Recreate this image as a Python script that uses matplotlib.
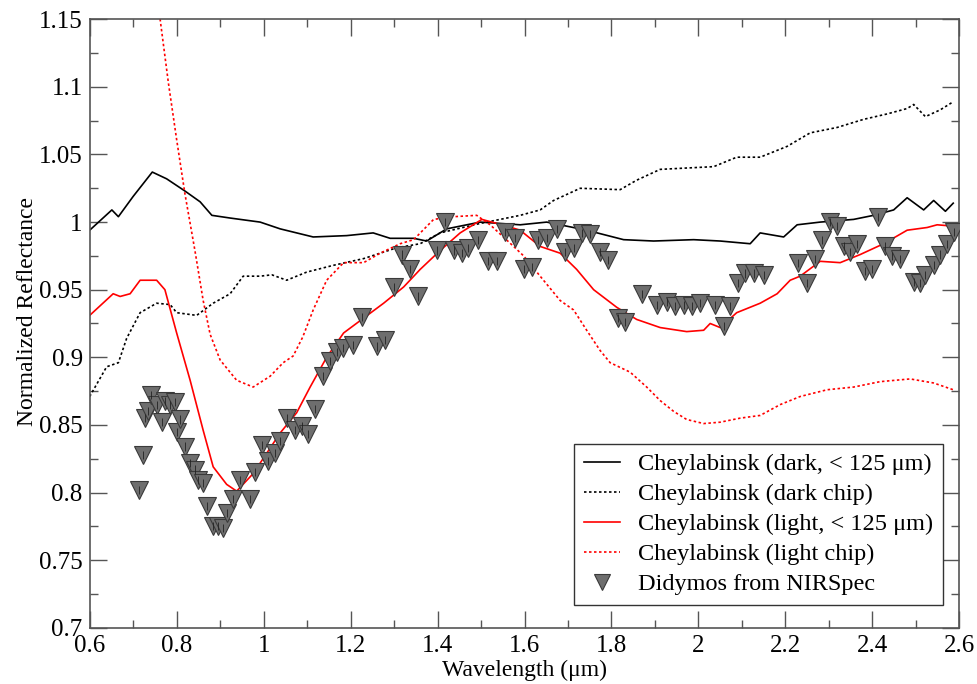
import numpy as np
import matplotlib
matplotlib.use("Agg")
import matplotlib.pyplot as plt

plt.rcParams['font.family'] = ['Liberation Serif', 'DejaVu Serif']

# Cheylabinsk dark, < 125 um (solid black)
dark_fine_x = [0.600, 0.651, 0.666, 0.700, 0.744, 0.777, 0.819, 0.854, 0.881, 0.923,
               0.992, 1.038, 1.114, 1.191, 1.252, 1.291, 1.345, 1.375, 1.421, 1.498,
               1.590, 1.651, 1.743, 1.828, 1.897, 1.989, 2.050, 2.119, 2.142, 2.196,
               2.227, 2.280, 2.357, 2.403, 2.449, 2.480, 2.518, 2.541, 2.568, 2.586]
dark_fine_y = [0.994, 1.009, 1.004, 1.019, 1.037, 1.032, 1.023, 1.015, 1.005, 1.003,
               1.000, 0.995, 0.989, 0.990, 0.992, 0.988, 0.988, 0.986, 0.995, 1.000,
               0.998, 1.000, 0.994, 0.987, 0.986, 0.987, 0.986, 0.984, 0.992, 0.989,
               0.998, 1.000, 1.002, 1.005, 1.009, 1.018, 1.009, 1.016, 1.008, 1.014]

# Cheylabinsk dark chip (dotted black)
dark_chip_x = [0.600, 0.639, 0.666, 0.685, 0.716, 0.754, 0.785, 0.800, 0.846, 0.884,
               0.923, 0.953, 0.992, 1.019, 1.053, 1.099, 1.160, 1.230, 1.306, 1.360,
               1.406, 1.498, 1.590, 1.636, 1.667, 1.728, 1.820, 1.858, 1.912, 1.973,
               2.035, 2.088, 2.142, 2.204, 2.257, 2.319, 2.380, 2.434, 2.480, 2.495,
               2.522, 2.556, 2.586]
dark_chip_y = [0.871, 0.893, 0.896, 0.914, 0.933, 0.940, 0.939, 0.933, 0.931, 0.940,
               0.947, 0.960, 0.960, 0.961, 0.957, 0.963, 0.968, 0.973, 0.981, 0.984,
               0.992, 0.999, 1.005, 1.009, 1.016, 1.025, 1.024, 1.031, 1.039, 1.040,
               1.041, 1.048, 1.048, 1.056, 1.066, 1.070, 1.076, 1.080, 1.084, 1.087,
               1.078, 1.083, 1.089]

# Cheylabinsk light, < 125 um (solid red)
light_fine_x = [0.600, 0.654, 0.670, 0.693, 0.716, 0.754, 0.773, 0.800, 0.831, 0.861,
                0.884, 0.915, 0.938, 0.976, 1.007, 1.038, 1.076, 1.107, 1.145, 1.184,
                1.230, 1.276, 1.322, 1.360, 1.406, 1.452, 1.502, 1.559, 1.590, 1.636,
                1.682, 1.720, 1.759, 1.812, 1.858, 1.912, 1.973, 2.012, 2.027, 2.050,
                2.088, 2.142, 2.181, 2.211, 2.234, 2.280, 2.326, 2.372, 2.426, 2.480,
                2.526, 2.549, 2.586]
light_fine_y = [0.931, 0.947, 0.945, 0.947, 0.957, 0.957, 0.950, 0.918, 0.883, 0.846,
                0.819, 0.806, 0.801, 0.814, 0.829, 0.844, 0.859, 0.878, 0.900, 0.918,
                0.929, 0.940, 0.952, 0.965, 0.979, 0.992, 1.002, 0.997, 0.994, 0.982,
                0.977, 0.965, 0.950, 0.937, 0.928, 0.922, 0.919, 0.920, 0.925, 0.922,
                0.933, 0.940, 0.947, 0.957, 0.960, 0.971, 0.970, 0.976, 0.984, 0.994,
                0.996, 0.998, 0.997]

# Cheylabinsk light chip (dotted red)
light_chip_x = [0.755, 0.762, 0.781, 0.800, 0.819, 0.842, 0.861, 0.877, 0.900, 0.938,
                0.976, 1.015, 1.045, 1.068, 1.090, 1.114, 1.145, 1.184, 1.230, 1.268,
                1.314, 1.345, 1.391, 1.437, 1.490, 1.521, 1.575, 1.598, 1.636, 1.682,
                1.713, 1.743, 1.774, 1.797, 1.843, 1.881, 1.912, 1.943, 1.973, 2.012,
                2.050, 2.096, 2.142, 2.188, 2.234, 2.296, 2.357, 2.418, 2.487, 2.541,
                2.586]
light_chip_y = [1.200, 1.150, 1.103, 1.061, 1.021, 0.979, 0.942, 0.917, 0.898, 0.883,
                0.878, 0.886, 0.896, 0.901, 0.915, 0.935, 0.957, 0.970, 0.970, 0.977,
                0.984, 0.987, 1.002, 1.004, 1.005, 0.998, 0.982, 0.975, 0.960, 0.942,
                0.935, 0.920, 0.905, 0.896, 0.889, 0.878, 0.868, 0.860, 0.854, 0.851,
                0.852, 0.855, 0.857, 0.865, 0.871, 0.876, 0.878, 0.882, 0.884, 0.881,
                0.876]

# Didymos from NIRSpec (triangles)
didy_x = [0.714, 0.722, 0.727, 0.735, 0.742, 0.754, 0.766, 0.773, 0.785, 0.796,
          0.800, 0.808, 0.819, 0.831, 0.842, 0.850, 0.861, 0.869, 0.884, 0.896,
          0.907, 0.915, 0.930, 0.946, 0.969, 0.980, 0.996, 1.011, 1.026, 1.038,
          1.053, 1.072, 1.088, 1.103, 1.118, 1.137, 1.153, 1.168, 1.183, 1.206,
          1.226, 1.260, 1.279, 1.299, 1.318, 1.337, 1.356, 1.398, 1.417, 1.437,
          1.456, 1.471, 1.494, 1.517, 1.536, 1.555, 1.578, 1.598, 1.617, 1.632,
          1.651, 1.674, 1.694, 1.713, 1.732, 1.751, 1.774, 1.793, 1.816, 1.832,
          1.870, 1.904, 1.927, 1.947, 1.966, 1.985, 2.004, 2.039, 2.058, 2.073,
          2.092, 2.108, 2.127, 2.150, 2.230, 2.250, 2.269, 2.284, 2.303, 2.319,
          2.334, 2.349, 2.365, 2.384, 2.399, 2.414, 2.430, 2.445, 2.464, 2.495,
          2.510, 2.522, 2.541, 2.556, 2.572, 2.587]
didy_y = [0.802, 0.828, 0.855, 0.860, 0.872, 0.865, 0.852, 0.868, 0.865, 0.867,
          0.845, 0.854, 0.834, 0.822, 0.817, 0.809, 0.807, 0.790, 0.775, 0.775,
          0.774, 0.785, 0.795, 0.809, 0.795, 0.815, 0.835, 0.823, 0.829, 0.838,
          0.855, 0.846, 0.849, 0.843, 0.862, 0.886, 0.897, 0.904, 0.907, 0.909,
          0.930, 0.908, 0.913, 0.952, 0.976, 0.965, 0.945, 0.979, 1.000, 0.979,
          0.977, 0.981, 0.987, 0.971, 0.971, 0.993, 0.988, 0.965, 0.967, 0.987,
          0.988, 0.995, 0.978, 0.981, 0.992, 0.991, 0.978, 0.972, 0.929, 0.926,
          0.947, 0.939, 0.941, 0.938, 0.939, 0.938, 0.940, 0.939, 0.923, 0.938,
          0.955, 0.962, 0.962, 0.961, 0.970, 0.955, 0.973, 0.987, 1.000, 0.997,
          0.982, 0.978, 0.984, 0.964, 0.965, 1.004, 0.982, 0.975, 0.973, 0.956,
          0.955, 0.961, 0.968, 0.976, 0.984, 0.993]

fig = plt.figure(figsize=(9.77, 6.84), dpi=100)
ax = fig.add_axes([0.0918, 0.0823, 0.8901, 0.8895])

ax.plot(dark_fine_x, dark_fine_y, color='black', lw=1.2,
        label='Cheylabinsk (dark, < 125 μm)')
ax.plot(dark_chip_x, dark_chip_y, color='black', lw=1.2, ls=(0, (1.5, 1.5)),
        label='Cheylabinsk (dark chip)')
ax.plot(light_fine_x, light_fine_y, color='#ff0000', lw=1.2,
        label='Cheylabinsk (light, < 125 μm)')
ax.plot(light_chip_x, light_chip_y, color='#ff0000', lw=1.2, ls=(0, (1.5, 1.5)),
        label='Cheylabinsk (light chip)')
ax.plot(didy_x, didy_y, ls='none', marker='v', ms=13, mfc='#6e6e6e',
        mec='#3a3a3a', mew=0.8, label='Didymos from NIRSpec', zorder=3)
# petites barres d'erreur dins dels triangles
ax.errorbar(didy_x, didy_y, yerr=0.003, fmt='none', ecolor='#222222',
            elinewidth=0.6, capsize=0, zorder=4)

ax.set_xlim(0.6, 2.6)
ax.set_ylim(0.7, 1.15)
ax.set_xticks(np.arange(0.6, 2.61, 0.2))
ax.set_xticks(np.arange(0.7, 2.6, 0.2), minor=True)
ax.set_yticks(np.arange(0.7, 1.151, 0.05))
ax.set_yticks(np.arange(0.725, 1.15, 0.05), minor=True)
ax.set_xticklabels(['0.6', '0.8', '1', '1.2', '1.4', '1.6', '1.8', '2', '2.2', '2.4', '2.6'])
ax.set_yticklabels(['0.7', '0.75', '0.8', '0.85', '0.9', '0.95', '1', '1.05', '1.1', '1.15'])

ax.tick_params(which='both', direction='in', top=True, right=True, color='#555555',
               labelsize=18, width=1)
ax.tick_params(which='major', length=12, pad=5)
ax.tick_params(which='minor', length=6)
for s in ax.spines.values():
    s.set_color('#555555')
    s.set_linewidth(1.2)

ax.set_xlabel('Wavelength (μm)', fontsize=17, labelpad=2)
ax.set_ylabel('Normalized Reflectance', fontsize=17)
ax.yaxis.set_label_coords(-0.06, 0.52)

leg = ax.legend(loc='lower right', bbox_to_anchor=(0.981, 0.037), fontsize=17.5,
                frameon=True, fancybox=False, edgecolor='#333333', framealpha=1,
                handlelength=1.5, handletextpad=0.72, borderpad=0.4,
                labelspacing=0.33, borderaxespad=0, markerscale=0.85)
leg.get_frame().set_linewidth(1.0)

fig.savefig('out.png', dpi=100)
